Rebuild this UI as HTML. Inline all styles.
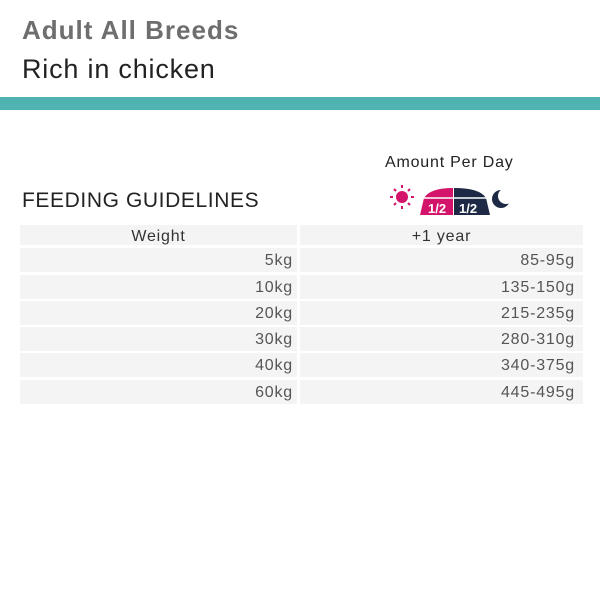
<!DOCTYPE html>
<html><head><style>
body{margin:0;width:600px;height:600px;background:#fff;font-family:"Liberation Sans",sans-serif;position:relative;overflow:hidden}
.a{position:absolute}
.c{position:absolute;background:#f4f4f4;font-size:16px;letter-spacing:0.8px;color:#555;line-height:26px}
</style></head><body>
<div class="a" style="left:22px;top:15px;font-size:26px;letter-spacing:1px;font-weight:bold;color:#6e6e6e">Adult All Breeds</div>
<div class="a" style="left:22px;top:54px;font-size:27px;letter-spacing:0.8px;color:#222">Rich in chicken</div>
<div class="a" style="left:0;top:97px;width:600px;height:13px;background:#4fb4b1"></div>
<div class="a" style="left:385px;top:154px;font-size:16px;letter-spacing:0.8px;color:#222">Amount Per Day</div>
<div class="a" style="left:22px;top:189px;font-size:21px;letter-spacing:0.6px;color:#222">FEEDING GUIDELINES</div>
<svg class="a" style="left:388px;top:183px" width="130" height="36">
<circle cx="14" cy="14" r="6" fill="#d4146a"/>
<g stroke="#d4146a" stroke-width="2"><line x1="14" y1="2" x2="14" y2="5"/><line x1="14" y1="23" x2="14" y2="26"/><line x1="2" y1="14" x2="5" y2="14"/><line x1="23" y1="14" x2="26" y2="14"/><line x1="6" y1="6" x2="8" y2="8"/><line x1="20" y1="20" x2="22" y2="22"/><line x1="6" y1="22" x2="8" y2="20"/><line x1="20" y1="8" x2="22" y2="6"/></g>
<path d="M36 15 Q42 5 65 5 L65 32 L32 32 Z" fill="#d4146a"/>
<path d="M66 15 L66 5 Q92 5 98 15 L102 32 L66 32 Z" fill="#1e2a45"/>
<path d="M34 15 L100 15" stroke="#fff" stroke-width="1.5"/>
<text x="40" y="30" font-size="13" font-weight="bold" fill="#fff" font-family="Liberation Sans">1/2</text>
<text x="71" y="30" font-size="13" font-weight="bold" fill="#fff" font-family="Liberation Sans">1/2</text>
<circle cx="113" cy="16" r="9" fill="#1e2a45"/>
<circle cx="118" cy="13" r="8" fill="#fff"/>
</svg>
<div class="c" style="left:20px;top:225px;width:277px;height:20px;line-height:23px;text-align:center;color:#333">Weight</div>
<div class="c" style="left:300px;top:225px;width:283px;height:20px;line-height:23px;text-align:center;color:#333">+1 year</div>
<div class="c" style="left:20px;top:248px;width:273px;height:24px;padding-right:4px;text-align:right">5kg</div>
<div class="c" style="left:300px;top:248px;width:275px;height:24px;padding-right:8px;text-align:right">85-95g</div>
<div class="c" style="left:20px;top:275px;width:273px;height:24px;padding-right:4px;text-align:right">10kg</div>
<div class="c" style="left:300px;top:275px;width:275px;height:24px;padding-right:8px;text-align:right">135-150g</div>
<div class="c" style="left:20px;top:301px;width:273px;height:24px;padding-right:4px;text-align:right">20kg</div>
<div class="c" style="left:300px;top:301px;width:275px;height:24px;padding-right:8px;text-align:right">215-235g</div>
<div class="c" style="left:20px;top:327px;width:273px;height:24px;padding-right:4px;text-align:right">30kg</div>
<div class="c" style="left:300px;top:327px;width:275px;height:24px;padding-right:8px;text-align:right">280-310g</div>
<div class="c" style="left:20px;top:353px;width:273px;height:24px;padding-right:4px;text-align:right">40kg</div>
<div class="c" style="left:300px;top:353px;width:275px;height:24px;padding-right:8px;text-align:right">340-375g</div>
<div class="c" style="left:20px;top:380px;width:273px;height:24px;padding-right:4px;text-align:right">60kg</div>
<div class="c" style="left:300px;top:380px;width:275px;height:24px;padding-right:8px;text-align:right">445-495g</div>
</body></html>
